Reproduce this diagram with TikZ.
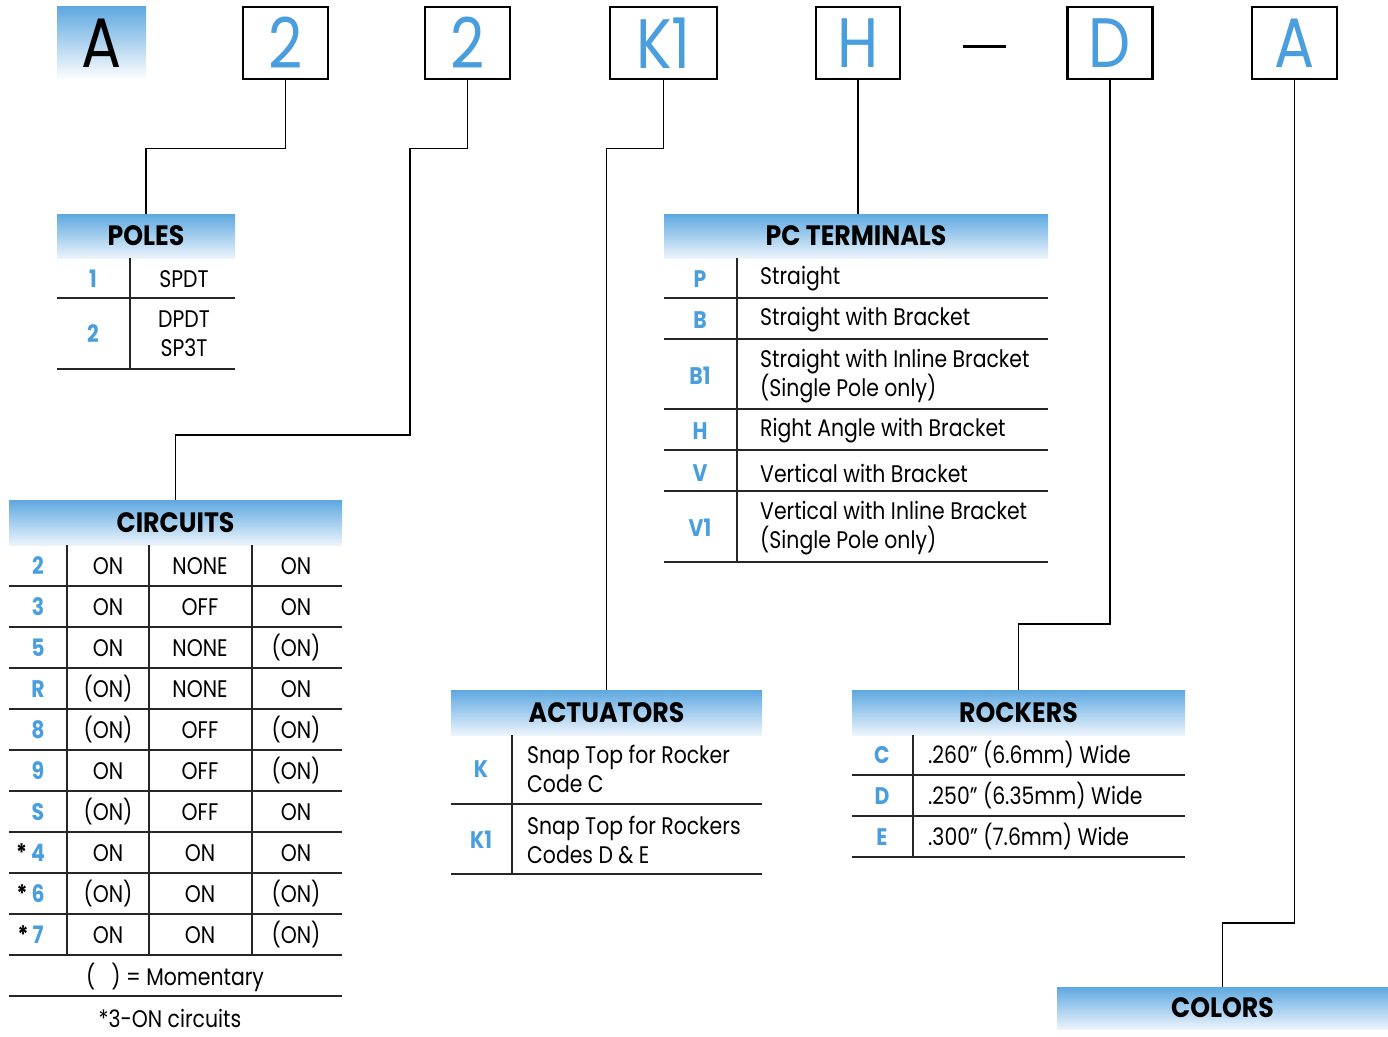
\documentclass[tikz,border=0pt]{standalone}
\usepackage{fontspec}
\setmainfont{Poppins}[FakeStretch=0.85]
\newfontfamily\hdrfont{Poppins}[FakeStretch=0.9]
\definecolor{keyblue}{RGB}{74,158,222}
\definecolor{hdrtop}{RGB}{94,168,224}
\definecolor{hdrbot}{RGB}{236,244,252}
\newcommand{\bodyfnt}{\fontsize{24}{29}\selectfont}
\begin{document}
\begin{tikzpicture}[x=1pt,y=-1pt,
  topbox/.style={draw, line width=2.5pt, minimum width=85, minimum height=72, inner sep=0, text=keyblue, font=\fontsize{70}{70}\selectfont},
  hdr/.style={top color=hdrtop, bottom color=hdrbot, minimum height=44, inner sep=0, font=\hdrfont\fontsize{28}{28}\selectfont\bfseries},
  key/.style={text=keyblue, font=\bodyfnt\bfseries, inner sep=0},
  txt/.style={font=\bodyfnt, inner sep=0, align=center},
  desc/.style={font=\bodyfnt, inner sep=0, anchor=west, align=left},
  tline/.style={line width=1.2pt, draw=black!85},
  conn/.style={line width=1.4pt}]
\useasboundingbox (0,0) rectangle (1388,1036);

% top boxes
\node[top color=hdrtop, bottom color=white, minimum width=89, minimum height=74, inner sep=0, font=\fontsize{70}{70}\selectfont] (bA) at (101.5,43) {A};
\node[topbox] (b1) at (285.5,43) {2};
\node[topbox] (b2) at (467.5,43) {2};
\node[topbox, minimum width=107] (bK) at (663.5,43) {K1};
\node[topbox, minimum width=84] (bH) at (858,43) {H};
\draw[line width=3pt] (963,46) -- (1006,46);
\node[topbox] (bD) at (1110,43) {D};
\node[topbox] (bC) at (1294.5,43) {A};

% headers
\node[hdr, minimum width=178] (poles) at (146,236) {POLES};
\node[hdr, minimum width=333, minimum height=45] (circ) at (175.5,522.5) {CIRCUITS};
\node[hdr, minimum width=384] (pct) at (856,236) {PC TERMINALS};
\node[hdr, minimum width=311, minimum height=45] (act) at (606.5,712.5) {ACTUATORS};
\node[hdr, minimum width=333, minimum height=45] (rock) at (1018.5,712.5) {ROCKERS};
\node[hdr, minimum width=331, minimum height=42] (col) at (1222.5,1008) {COLORS};

% connectors
\coordinate (j1) at (410,435);
\coordinate (j2) at (1110,624);
\coordinate (j3) at (1294,923);
\draw[conn] (b1.south) -- ++(0,68) -| (poles.north);
\draw[conn] (b2.south) -- ++(0,68) -| (j1) -| (circ.north);
\draw[conn] (bK.south) -- ++(0,68) -| (act.north);
\draw[conn] (bH.south) -- (bH.south |- pct.north);
\draw[conn] (bD.south) -- (j2) -| (rock.north);
\draw[conn] (bC.south) -- (bC.south |- j3) -| (col.north);

% POLES table
\draw[tline] (57,298) -- (235,298) (57,369) -- (235,369) (130,258) -- (130,369);
\node[key] (pk1) at (93,279) {1};
\node[key] (pk2) at (93,334) {2};
\node[txt] (pd1) at (184,279) {SPDT};
\node[txt] (pd2) at (184,334) {DPDT\\SP3T};

% CIRCUITS table
\foreach \y in {586,627,...,996} \draw[tline] (9,\y) -- (342,\y);
\draw[tline] (67,545) -- (67,955) (149,545) -- (149,955) (252,545) -- (252,955);
\foreach \k/\a/\b/\c [count=\i] in {2/ON/NONE/ON, 3/ON/OFF/ON, 5/ON/NONE/(ON), R/(ON)/NONE/ON, 8/(ON)/OFF/(ON), 9/ON/OFF/(ON), S/(ON)/OFF/ON, \llap{\textcolor{black}{*\,}}4/ON/ON/ON, \llap{\textcolor{black}{*\,}}6/(ON)/ON/(ON), \llap{\textcolor{black}{*\,}}7/ON/ON/(ON)} {
  \node[key] (ck\i) at (38,{525+41*\i}) {\k};
  \node[txt] (ca\i) at (108,{525+41*\i}) {\a};
  \node[txt] (cb\i) at (200,{525+41*\i}) {\b};
  \node[txt] (cc\i) at (296,{525+41*\i}) {\c};
}
\node[txt] (mom) at (175,977) {(\hspace{16pt}) = Momentary};
\node[txt] (three) at (170,1018) {*3-ON circuits};

% PC TERMINALS table
\foreach \y in {298,339,409,450,491,562} \draw[tline] (664,\y) -- (1048,\y);
\draw[tline] (737,258) -- (737,562);
\node[key] (tk1) at (700,279) {P};
\node[key] (tk2) at (700,320) {B};
\node[key] (tk3) at (700,376) {B1};
\node[key] (tk4) at (700,431) {H};
\node[key] (tk5) at (700,473) {V};
\node[key] (tk6) at (700,528) {V1};
\node[desc] (td1) at (760,279) {Straight};
\node[desc] (td2) at (760,320) {Straight with Bracket};
\node[desc] (td3) at (760,376) {Straight with Inline Bracket\\(Single Pole only)};
\node[desc] (td4) at (760,431) {Right Angle with Bracket};
\node[desc] (td5) at (760,473) {Vertical with Bracket};
\node[desc] (td6) at (760,528) {Vertical with Inline Bracket\\(Single Pole only)};

% ACTUATORS table
\draw[tline] (451,804) -- (762,804) (451,874) -- (762,874) (512,735) -- (512,874);
\node[key] (ak1) at (481,769) {K};
\node[key] (ak2) at (481,840) {K1};
\node[desc] (ad1) at (527,769) {Snap Top for Rocker\\Code C};
\node[desc] (ad2) at (527,840) {Snap Top for Rockers\\Codes D \& E};

% ROCKERS table
\foreach \y in {775,816,857} \draw[tline] (852,\y) -- (1185,\y);
\draw[tline] (913,735) -- (913,857);
\node[key] (rk1) at (882,755) {C};
\node[key] (rk2) at (882,796) {D};
\node[key] (rk3) at (882,837) {E};
\node[desc] (rd1) at (928,755) {.260” (6.6mm) Wide};
\node[desc] (rd2) at (928,796) {.250” (6.35mm) Wide};
\node[desc] (rd3) at (928,837) {.300” (7.6mm) Wide};
\end{tikzpicture}
\end{document}
